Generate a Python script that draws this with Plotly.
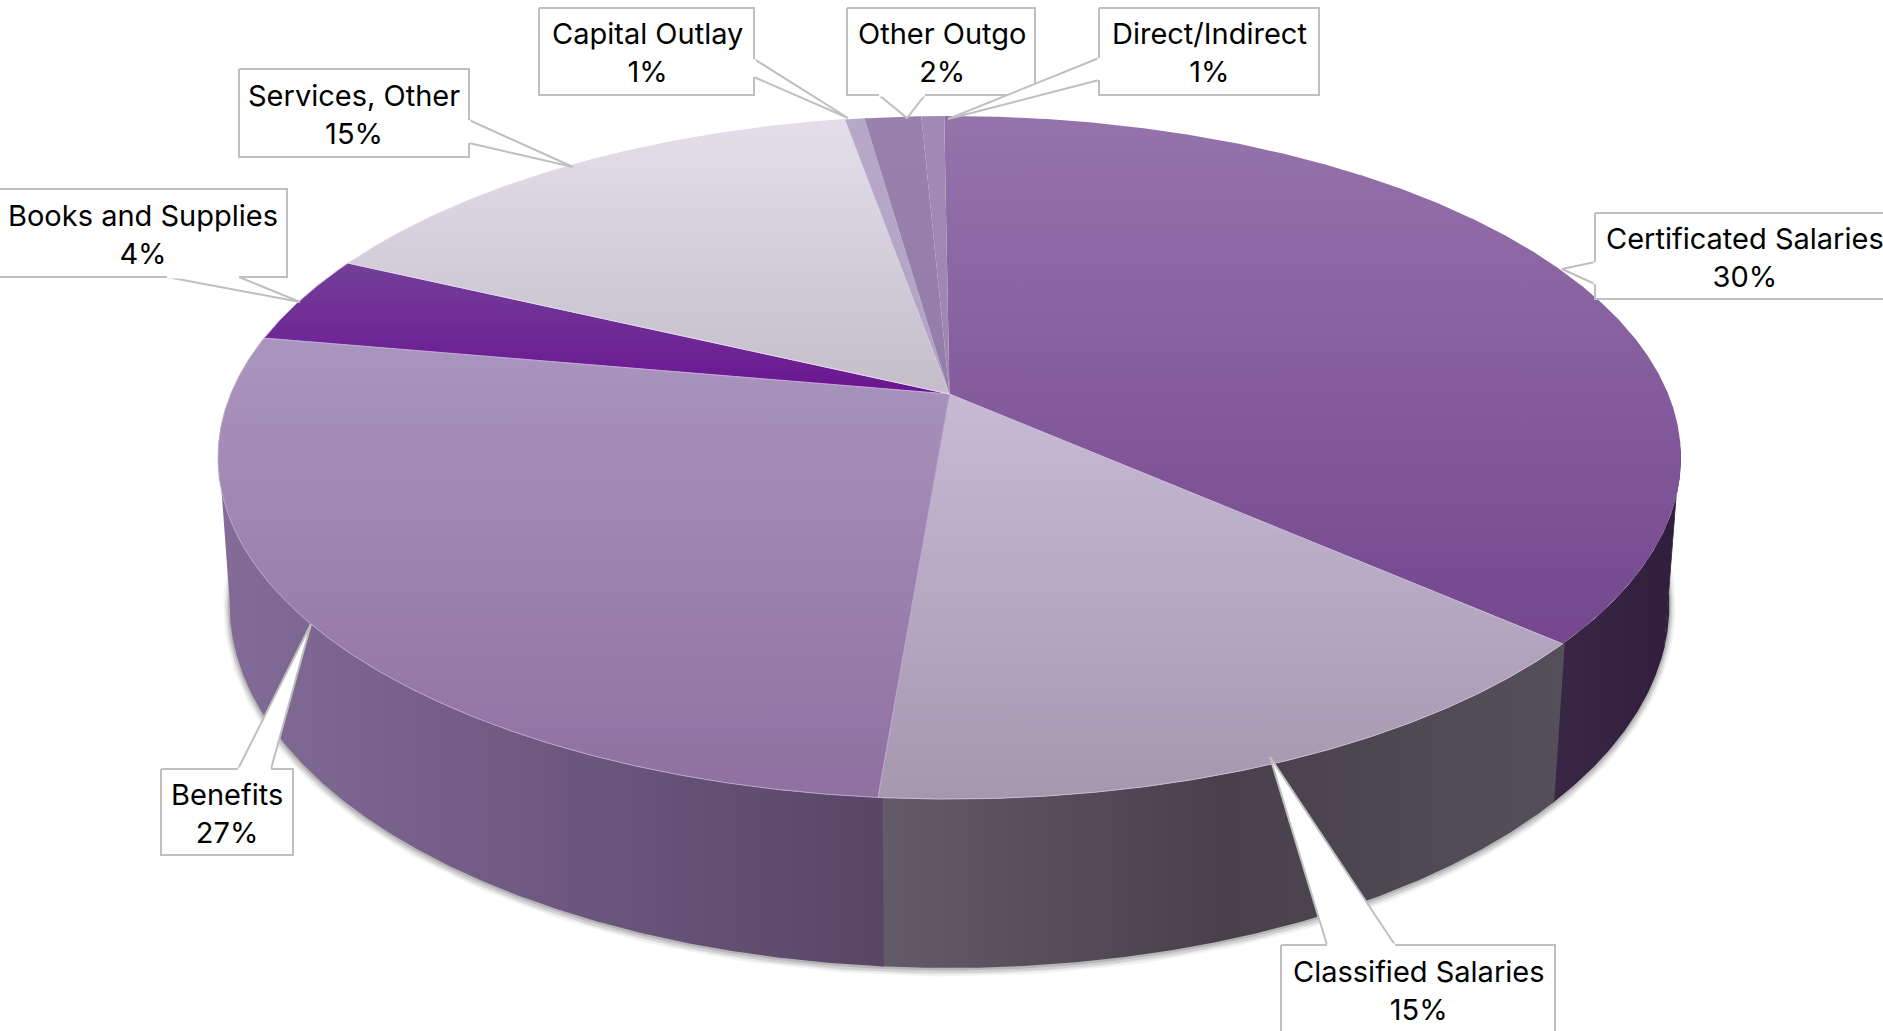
import numpy as np
import plotly.graph_objects as go

# Budget shares, clockwise from the top of the disc.
categories = ["Certificated Salaries", "Unlabeled balance", "Classified Salaries", "Benefits",
              "Books and Supplies", "Services, Other", "Capital Outlay", "Other Outgo", "Direct/Indirect"]
shares = [30, 6.7, 14.73, 26.51, 4.25, 15.2, 0.51, 1.5, 0.6]

# Colour of each slice: top face (upper, lower) and visible wall stops.
top_colors = {
    "Certificated Salaries": ("#9673ab", "#74478f"),
    "Unlabeled balance": ("#9673ab", "#74478f"),
    "Classified Salaries": ("#c8bad4", "#a497ae"),
    "Benefits": ("#a995bd", "#8f70a0"),
    "Books and Supplies": ("#74409a", "#6a1590"),
    "Services, Other": ("#e3dfe9", "#c4bdca"),
    "Capital Outlay": ("#b6a8c8", "#b0a0c2"),
    "Other Outgo": ("#9980ad", "#917ba5"),
    "Direct/Indirect": ("#a18ab4", "#9a84ae"),
}
wall_colors = {
    "Certificated Salaries": ["#33203f", "#33203f"],
    "Unlabeled balance": ["#3a2746", "#301e3c"],
    "Classified Salaries": ["#635b69", "#48404b", "#545059"],
    "Benefits": ["#836c97", "#6e5880", "#594666"],
}
seam_colors = {
    "Classified Salaries": "#c9b9d8",
    "Benefits": "#b9a4cc",
    "Books and Supplies": "#c7a8dc",
    "Services, Other": "#e4d8ee",
}

# Callout boxes: (label, left, top, right, bottom, pointer polygon between box and tip).
callouts = [
    ("Certificated Salaries", 1595, 213, 1900, 299, [(1595, 262), (1562, 269), (1595, 284)], 1745),
    ("Classified Salaries", 1281, 945, 1555, 1040, [(1327, 945), (1270, 757), (1395, 945)], 1419),
    ("Benefits", 161, 769, 293, 855, [(238, 769), (311, 624), (271, 769)], 227),
    ("Books and Supplies", -4, 189, 287, 277, [(167, 277), (300, 302), (239, 277)], 143),
    ("Services, Other", 239, 69, 469, 157, [(469, 120), (573, 167), (469, 143)], 354),
    ("Capital Outlay", 539, 8, 754, 95, [(754, 59), (848, 118), (754, 77)], 647),
    ("Other Outgo", 847, 8, 1035, 95, [(879, 95), (907, 118), (925, 95)], 942),
    ("Direct/Indirect", 1099, 8, 1319, 95, [(1099, 58), (948, 119), (1099, 80)], 1209),
]

START_DEG = -0.5
WALL_FROM, WALL_TO = 99.0, 261.0
CX, CY, A, B, K, W0, DROP = 949.5, 394.0, 718.7, 329.7, 0.186, 1.0155, 146.4
LABEL_FONT = "Inter"
LABEL_SIZE = 29
BORDER = "#bfbfbf"
BORDER_WIDTH = 2


def top_edge(deg):
    t = np.radians(deg)
    w = 1 + K * np.cos(t)
    return CX + A * np.sin(t) / w, CY - B * np.cos(t) / w


def bottom_edge(deg):
    t = np.radians(deg)
    w = W0 + K * np.cos(t)
    return CX + A * np.sin(t) / w, CY - (B * np.cos(t) - DROP) / w


def arc(a0, a1):
    return np.linspace(a0, a1, max(3, int(abs(a1 - a0) * 4)))


def gradient(kind, stops, start, stop):
    n = len(stops) - 1
    return dict(type=kind, start=start, stop=stop,
                colorscale=[[i / n, c] for i, c in enumerate(stops)])


edges = START_DEG + np.concatenate([[0], np.cumsum(shares)]) * 3.6
fig = go.Figure()

# Soft shadow under the base of the disc.
sx, sy = bottom_edge(arc(WALL_FROM - 8, WALL_TO + 6))
for width, alpha, off in [(13, 0.05, 2), (9, 0.07, 2), (6, 0.10, 2), (3, 0.16, 1)]:
    fig.add_trace(go.Scatter(x=sx, y=sy + off, mode="lines", opacity=alpha,
                             line=dict(color="#303030", width=width), hoverinfo="skip"))

# Outer wall of the slices that face the viewer; each overlaps its neighbour slightly.
for name, a0, a1 in zip(categories, edges[:-1], edges[1:]):
    lo, hi = max(a0, WALL_FROM), min(a1, WALL_TO)
    if name not in wall_colors or lo >= hi:
        continue
    angles = arc(lo - 0.3, hi)
    tx, ty = top_edge(angles)
    bx, by = bottom_edge(angles)
    xs = np.concatenate([tx, bx[::-1], tx[:1]])
    ys = np.concatenate([ty, by[::-1], ty[:1]])
    fig.add_trace(go.Scatter(
        x=xs, y=ys, mode="lines", fill="toself", line=dict(width=0), hoverinfo="skip",
        fillgradient=gradient("horizontal", wall_colors[name], float(xs.min()), float(xs.max())),
    ))

# Top face, one wedge per share. The balance wedge goes first and runs under the
# Certificated wedge so that no seam shows between the two.
draw_order = [1, 0] + list(range(2, len(categories)))
for i in draw_order:
    name = categories[i]
    a0, a1 = edges[i], edges[i + 1]
    hub_x, hub_y = [CX], [CY]
    if name == "Unlabeled balance":
        a0 -= 4.0
        hub_x, hub_y = [CX, CX + 6], [CY, CY - 6]
    px, py = top_edge(arc(a0, a1))
    xs = np.concatenate([hub_x, px, [CX]])
    ys = np.concatenate([hub_y, py, [CY]])
    span = (116, 640)
    if name == "Classified Salaries":
        span = (394, 799)
    elif name == "Benefits":
        span = (340, 799)
    elif name == "Books and Supplies":
        span = (262, 394)
    elif name == "Services, Other":
        span = (120, 394)
    seam = seam_colors.get(name)
    fig.add_trace(go.Scatter(
        x=xs, y=ys, mode="lines", fill="toself", hoverinfo="skip",
        line=dict(width=1 if seam else 0, color=seam or "rgba(0,0,0,0)"),
        fillgradient=gradient("vertical", list(top_colors[name]), span[0], span[1]),
    ))

# Callout boxes with their pointers, and the label text on top.
share_of = dict(zip(categories, shares))
for name, left, top, right, bottom, pointer, text_x in callouts:
    fig.add_trace(go.Scatter(
        x=[left, right, right, left, left], y=[top, top, bottom, bottom, top],
        mode="lines", fill="toself", fillcolor="white",
        line=dict(color=BORDER, width=BORDER_WIDTH), hoverinfo="skip"))
    fig.add_trace(go.Scatter(
        x=[p[0] for p in pointer], y=[p[1] for p in pointer],
        mode="lines", fill="toself", fillcolor="white",
        line=dict(color=BORDER, width=BORDER_WIDTH), hoverinfo="skip"))
    # White strip hides the box border where the pointer joins it.
    p0, p2 = pointer[0], pointer[2]
    fig.add_trace(go.Scatter(
        x=[p0[0], p2[0]], y=[p0[1], p2[1]], mode="lines",
        line=dict(color="white", width=3), hoverinfo="skip"))
    fig.add_annotation(
        x=text_x, y=(top + min(bottom, top + 88)) / 2 + 1, xref="x", yref="y",
        text=f"{name}<br>{share_of[name]:.0f}%", showarrow=False, align="center",
        font=dict(family=LABEL_FONT, size=LABEL_SIZE, color="black"),
    )

fig.update_layout(
    width=1883, height=1031, margin=dict(l=0, r=0, t=0, b=0),
    paper_bgcolor="white", plot_bgcolor="white", showlegend=False,
    xaxis=dict(range=[0, 1883], visible=False, fixedrange=True),
    yaxis=dict(range=[1031, 0], visible=False, fixedrange=True),
)
fig.write_html("out.html")
